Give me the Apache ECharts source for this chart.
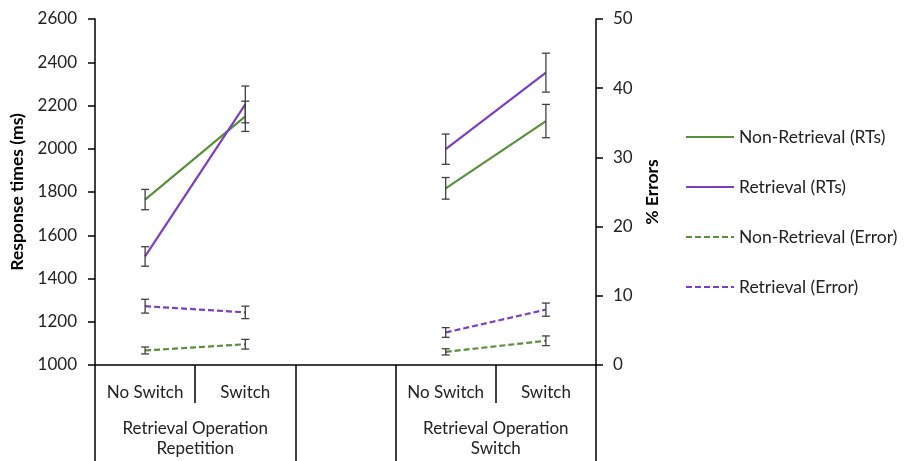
<!DOCTYPE html>
<html>
<head>
<meta charset="utf-8">
<script src="https://cdn.jsdelivr.net/npm/echarts@6/dist/echarts.min.js"></script>
<style>html,body{margin:0;padding:0;background:#fff;}#c{width:905px;height:461px;}</style>
</head>
<body>
<div id="c"></div>
<script>
var categories = ['No Switch', 'Switch', '', 'No Switch', 'Switch'];
var groupLabels = ['', 'Retrieval Operation\nRepetition', '', '', 'Retrieval Operation\nSwitch', ''];
var seriesNames = ['Non-Retrieval (RTs)', 'Retrieval (RTs)', 'Non-Retrieval (Error)', 'Retrieval (Error)'];

var nonRetRT = [1765, 2150, null, 1817, 2128];
var retRT = [1502, 2205, null, 1998, 2352];
var nonRetErr = [2.1, 3.0, null, 1.9, 3.5];
var retErr = [8.5, 7.6, null, 4.7, 8.0];

var nonRetRTse = [47, 70, null, 50, 77];
var retRTse = [45, 85, null, 70, 90];
var nonRetErrse = [0.5, 0.7, null, 0.45, 0.7];
var retErrse = [1.0, 0.9, null, 0.7, 0.95];

var rtTicks = {min: 1000, max: 2600, interval: 200};
var errTicks = {min: 0, max: 50, interval: 10};

var GREEN = '#5b8f3b';
var PURPLE = '#7b3fbf';
var FONT = 'Lato';

function errData(vals, se) {
  var out = [];
  for (var i = 0; i < vals.length; i++) {
    if (vals[i] != null) out.push([i, vals[i] - se[i], vals[i] + se[i]]);
  }
  return out;
}
function renderErr(params, api) {
  var x = api.value(0);
  var lo = api.coord([x, api.value(1)]);
  var hi = api.coord([x, api.value(2)]);
  var w = 4;
  var st = {stroke: '#404040', lineWidth: 1.3};
  return {type: 'group', children: [
    {type: 'line', shape: {x1: lo[0], y1: lo[1], x2: hi[0], y2: hi[1]}, style: st},
    {type: 'line', shape: {x1: lo[0] - w, y1: lo[1], x2: lo[0] + w, y2: lo[1]}, style: st},
    {type: 'line', shape: {x1: hi[0] - w, y1: hi[1], x2: hi[0] + w, y2: hi[1]}, style: st}
  ]};
}
function lineSeries(name, data, color, dashed, yIdx) {
  return {
    name: name, type: 'line', data: data, yAxisIndex: yIdx, xAxisIndex: 0,
    symbol: 'none', connectNulls: false, silent: true, z: 3,
    lineStyle: {color: color, width: 2.2, type: dashed ? [6, 3] : 'solid'},
    itemStyle: {color: color}
  };
}
function errSeries(vals, se, yIdx) {
  return {type: 'custom', xAxisIndex: 0, yAxisIndex: yIdx, data: errData(vals, se), renderItem: renderErr, silent: true, z: 4};
}

var axisLineStyle = {color: '#000', width: 1.5};
var chart = echarts.init(document.getElementById('c'), null, {renderer: 'canvas'});
chart.setOption({
  animation: false,
  backgroundColor: '#fff',
  textStyle: {fontFamily: FONT},
  grid: {left: 95, right: 309, top: 19, bottom: 96, containLabel: false},
  legend: {
    data: seriesNames, orient: 'vertical', left: 685, top: 127, padding: 0,
    itemWidth: 48, itemHeight: 4, itemGap: 30,
    itemStyle: {opacity: 0},
    textStyle: {fontFamily: FONT, fontSize: 17.5, color: '#222', lineHeight: 20}
  },
  xAxis: [{
    type: 'category', data: categories, boundaryGap: true, position: 'bottom',
    axisLine: {show: true, lineStyle: axisLineStyle},
    axisTick: {show: true, interval: 0, length: 38, lineStyle: axisLineStyle},
    axisLabel: {interval: 0, margin: 19, fontSize: 17, color: '#222', fontFamily: FONT},
    splitLine: {show: false}
  }, {
    type: 'category', data: groupLabels, boundaryGap: false, position: 'bottom',
    axisLine: {show: false},
    axisTick: {show: true, length: 100, lineStyle: axisLineStyle,
      interval: function (i) { return i === 0 || i === 2 || i === 3 || i === 5; }},
    axisLabel: {interval: 0, margin: 54, fontSize: 17, lineHeight: 20, color: '#222', fontFamily: FONT},
    splitLine: {show: false}
  }],
  yAxis: [{
    type: 'value', position: 'left', min: rtTicks.min, max: rtTicks.max, interval: rtTicks.interval,
    name: 'Response times (ms)', nameLocation: 'middle', nameGap: 60, nameRotate: 90,
    nameTextStyle: {fontWeight: 'bold', fontSize: 17.5, color: '#000', fontFamily: FONT},
    axisLine: {show: true, lineStyle: axisLineStyle},
    axisTick: {show: true, length: 7, lineStyle: axisLineStyle},
    axisLabel: {margin: 18, fontSize: 17, color: '#222', fontFamily: FONT,
      formatter: function (v) { return String(v); }},
    splitLine: {show: false}
  }, {
    type: 'value', position: 'right', min: errTicks.min, max: errTicks.max, interval: errTicks.interval,
    name: '% Errors', nameLocation: 'middle', nameGap: 43, nameRotate: 90,
    nameTextStyle: {fontWeight: 'bold', fontSize: 17.5, color: '#000', fontFamily: FONT},
    axisLine: {show: true, lineStyle: axisLineStyle},
    axisTick: {show: true, length: 7, lineStyle: axisLineStyle},
    axisLabel: {margin: 17, fontSize: 17, color: '#222', fontFamily: FONT},
    splitLine: {show: false}
  }],
  series: [
    lineSeries(seriesNames[0], nonRetRT, GREEN, false, 0),
    lineSeries(seriesNames[1], retRT, PURPLE, false, 0),
    lineSeries(seriesNames[2], nonRetErr, GREEN, true, 1),
    lineSeries(seriesNames[3], retErr, PURPLE, true, 1),
    errSeries(nonRetRT, nonRetRTse, 0),
    errSeries(retRT, retRTse, 0),
    errSeries(nonRetErr, nonRetErrse, 1),
    errSeries(retErr, retErrse, 1)
  ]
});
</script>
</body>
</html>
